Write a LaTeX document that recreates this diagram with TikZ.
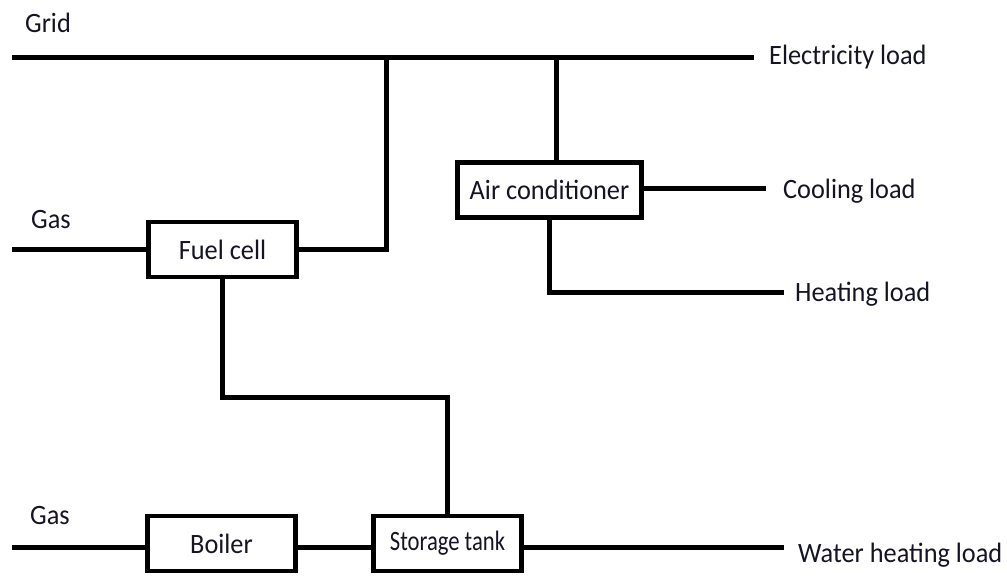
\documentclass[tikz,border=0pt]{standalone}
\usepackage{fontspec}
\setmainfont{Carlito}[FakeStretch=0.94]
\usetikzlibrary{positioning,calc}
\definecolor{CHPInk}{HTML}{141424}
\tikzset{
  chpbox/.style={
    rectangle,
    draw=black,
    line width=4.5pt,
    fill=white,
    align=center,
    inner sep=0pt,
    font=\fontsize{28}{32}\selectfont,
    text=CHPInk,
    minimum width=148pt,
    minimum height=55pt
  },
  chpline/.style={draw=black,line width=5pt},
  chplabel/.style={font=\fontsize{28}{32}\selectfont,text=CHPInk,anchor=base west,inner sep=0pt},
}

\begin{document}
\begin{tikzpicture}[x=1pt,y=-1pt]
  \useasboundingbox (0,0) rectangle (1007,577);

  % units
  \node[chpbox] (fuel) at (222.5,249.5) {Fuel cell};
  \node[chpbox,minimum width=184pt] (ac) at (549.5,190) {Air conditioner};
  \node[chpbox] (boiler) at (221.5,543.5) {Boiler};
  \node[chpbox] (tank) at (447.5,543.5) {\scalebox{0.86}[1]{Storage tank}};

  % line ends and taps
  \coordinate (gridStart) at (12,58);
  \coordinate (elecEnd) at (754,58);
  \coordinate (tapFuel) at (386,58);
  \coordinate (tapAc) at (556,58);
  \coordinate (gasTop) at (12,250);
  \coordinate (gasLow) at (12,547);
  \coordinate (coolEnd) at (766,189);
  \coordinate (heatEnd) at (784,293);
  \coordinate (waterEnd) at (784,547);
  \coordinate (fcBend) at (447.5,397);

  % labels
  \node[chplabel] (grid) at (25,33) {Grid};
  \node[chplabel] (gasA) at (31,229) {Gas};
  \node[chplabel] (gasB) at (30,524) {Gas};
  \node[chplabel] (elec) at (769,65) {Electricity load};
  \node[chplabel] (cool) at (783,199) {Cooling load};
  \node[chplabel] (heat) at (795,302) {Heating load};
  \node[chplabel] (water) at (798,562) {Water heating load};

  % connectors
  \draw[chpline] (gridStart) -- (elecEnd);
  \draw[chpline] (fuel.east) -| (tapFuel);
  \draw[chpline] (tapAc) -- (tapAc |- ac.north);
  \draw[chpline] (gasTop) -- (gasTop -| fuel.west);
  \draw[chpline] (ac.east |- coolEnd) -- (coolEnd);
  \draw[chpline] (ac.south) |- (heatEnd);
  \draw[chpline] (fuel.south) |- (fcBend) -- (tank.north);
  \draw[chpline] (gasLow) -- (gasLow -| boiler.west);
  \draw[chpline] (boiler.east |- gasLow) -- (tank.west |- gasLow);
  \draw[chpline] (tank.east |- waterEnd) -- (waterEnd);
\end{tikzpicture}
\end{document}
